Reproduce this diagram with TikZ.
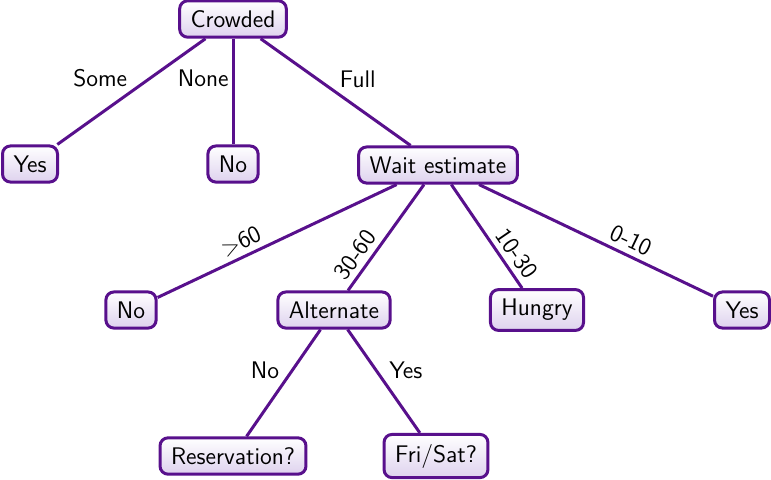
\documentclass[tikz,border=0pt]{standalone}
\usetikzlibrary{calc}
\definecolor{treepurple}{RGB}{88,16,140}
\definecolor{treelav}{RGB}{222,210,238}
\tikzset{
  treenode/.style={draw=treepurple, line width=1.5pt, rounded corners=4pt,
    top color=white, bottom color=treelav, inner xsep=5.5pt, inner ysep=4.8pt,
    font=\sffamily\fontsize{12}{14}\selectfont},
  edge/.style={draw=treepurple, line width=1.5pt},
  lab/.style={font=\sffamily\fontsize{12}{14}\selectfont, inner sep=2pt},
  slab/.style={lab, inner sep=3.2pt},
}
\begin{document}
\begin{tikzpicture}[x=0.5pt,y=-0.5pt]
\useasboundingbox (0,0) rectangle (771,479);
\node[treenode] (crowded) at (233,19) {Crowded};
\node[treenode] (yes1) at (30,164) {Yes};
\node[treenode] (no1) at (233,164) {No};
\node[treenode] (wait) at (438,165) {Wait estimate};
\node[treenode] (no2) at (131,310) {No};
\node[treenode] (alt) at (334,310) {Alternate};
\node[treenode] (hungry) at (537,310) {Hungry};
\node[treenode] (yes2) at (742,310) {Yes};
\node[treenode] (res) at (233,456) {Reservation?};
\node[treenode] (fri) at (436,456) {Fri/Sat?};

\draw[edge] (crowded) -- (yes1);
\draw[edge] (crowded) -- (no1);
\draw[edge] (crowded) -- (wait);
\draw[edge] (wait) -- (no2);
\draw[edge] (wait) -- (alt);
\draw[edge] (wait) -- (hungry);
\draw[edge] (wait) -- (yes2);
\draw[edge] (alt) -- (res);
\draw[edge] (alt) -- (fri);

\path (crowded.center) -- (yes1.center) node[lab, midway, anchor=south east] (l1) {Some};
\path (crowded.center) -- (no1.center) node[lab, midway, anchor=south east] (l2) {None};
\path (crowded.center) -- (wait.center) node[lab, midway, anchor=south west] (l3) {Full};

\path (wait.center) -- (no2.center) node[slab, pos=0.62, sloped, above] (l4) {$>$60};
\path (wait.center) -- (alt.center) node[slab, pos=0.68, sloped, above] (l5) {30-60};
\path (wait.center) -- (hungry.center) node[slab, pos=0.67, sloped, above] (l6) {10-30};
\path (wait.center) -- (yes2.center) node[slab, pos=0.615, sloped, above] (l7) {0-10};

\path (alt.center) -- (res.center) node[lab, midway, anchor=south east] (l8) {No};
\path (alt.center) -- (fri.center) node[lab, midway, anchor=south west] (l9) {Yes};
\end{tikzpicture}
\end{document}
